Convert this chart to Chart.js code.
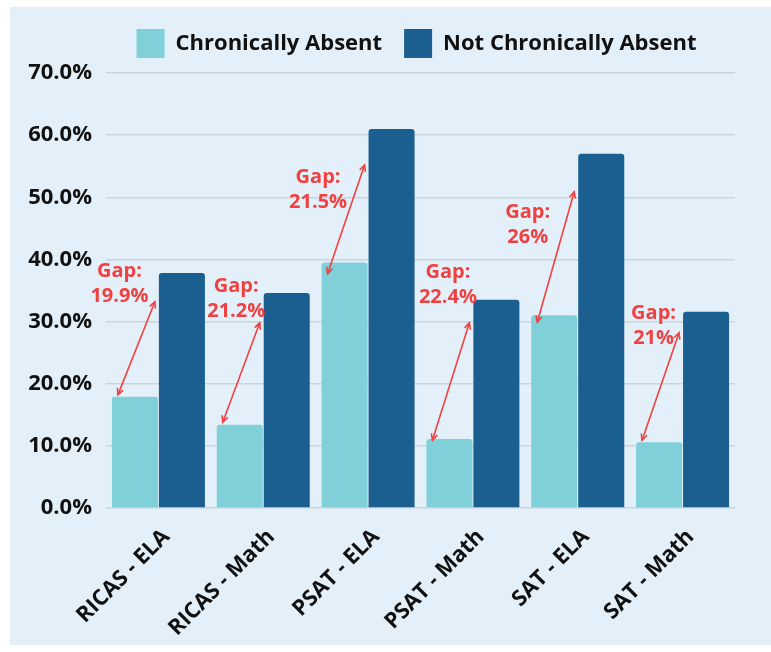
<!DOCTYPE html>
<html>
<head>
<meta charset="utf-8">
<script src="https://cdn.jsdelivr.net/npm/chart.js@4.4.1/dist/chart.umd.min.js"></script>
<style>
  html, body { margin: 0; background: #ffffff; }
  #panel { position: absolute; left: 10px; top: 7px; width: 761px; height: 638px; background: #e4f0f9; }
  canvas { display: block; }
</style>
</head>
<body>
<div id="panel"><canvas id="chart-gap" width="761" height="638"></canvas></div>
<script>
/* ── Data ───────────────────────── */
const categories = ['RICAS - ELA', 'RICAS - Math', 'PSAT - ELA', 'PSAT - Math', 'SAT - ELA', 'SAT - Math'];
const chronicallyAbsent = [17.9, 13.4, 39.5, 11.1, 31.0, 10.6];
const notChronicallyAbsent = [37.8, 34.6, 61.0, 33.5, 57.0, 31.6];
const gapLabels = ['19.9%', '21.2%', '21.5%', '22.4%', '26%', '21%'];
const yMax = 70;
const yStep = 10;

/* ── Gap callout placement (value units / px offsets) ── */
const arrowFrom = [18.2, 13.8, 37.7, 10.9, 29.9, 10.9];
const arrowTo = [33.2, 29.8, 55.2, 29.8, 50.9, 28.2];
const gapTextX = [-39, -27, -50, -25, -50, -29];
const gapTextY = [38.1, 35.7, 53.2, 38.0, 47.6, 31.3];

const light = '#7fd0d8';
const dark = '#1b5f90';
const red = '#ef4141';
const ink = '#111111';
const fontFamily = "'Open Sans', 'DejaVu Sans', sans-serif";

Chart.defaults.font.family = fontFamily;
Chart.defaults.color = ink;

// legend: fixed block height, and nudged right to sit over the plot
const legendPlacement = {
  id: 'legendPlacement',
  beforeUpdate(chart) {
    const lg = chart.legend;
    if (lg && !lg._fixed) {
      const fit = lg.fit;
      lg.fit = function () { fit.call(this); this.height = 66; };
      lg._fixed = true;
    }
  },
  afterLayout(chart) {
    chart.legend.left += 44;
    chart.legend.right += 44;
  }
};

function drawArrowHead(ctx, x, y, angle) {
  const len = 7, spread = 0.45;
  ctx.beginPath();
  ctx.moveTo(x - len * Math.cos(angle - spread), y - len * Math.sin(angle - spread));
  ctx.lineTo(x, y);
  ctx.lineTo(x - len * Math.cos(angle + spread), y - len * Math.sin(angle + spread));
  ctx.stroke();
}

const gapCallouts = {
  id: 'gapCallouts',
  afterDatasetsDraw(chart) {
    const { ctx, scales: { x, y } } = chart;
    const lo = chart.getDatasetMeta(0).data;
    const hi = chart.getDatasetMeta(1).data;
    ctx.save();
    ctx.strokeStyle = red;
    ctx.fillStyle = red;
    ctx.lineWidth = 1.6;
    lo.forEach((bar, i) => {
      const x1 = bar.x - bar.width / 2 + 6;
      const y1 = y.getPixelForValue(arrowFrom[i]);
      const x2 = hi[i].x - hi[i].width / 2 - 4;
      const y2 = y.getPixelForValue(arrowTo[i]);
      ctx.beginPath();
      ctx.moveTo(x1, y1);
      ctx.lineTo(x2, y2);
      ctx.stroke();
      const a = Math.atan2(y2 - y1, x2 - x1);
      drawArrowHead(ctx, x2, y2, a);
      drawArrowHead(ctx, x1, y1, a + Math.PI);

      const tx = x.getPixelForValue(i) + gapTextX[i];
      const ty = y.getPixelForValue(gapTextY[i]);
      ctx.font = 'bold 20px ' + fontFamily;
      ctx.textAlign = 'center';
      ctx.textBaseline = 'middle';
      ctx.fillText('Gap:', tx, ty);
      ctx.fillText(gapLabels[i], tx, ty + 25);
    });
    ctx.restore();
  }
};

new Chart(document.getElementById('chart-gap'), {
  type: 'bar',
  data: {
    labels: categories,
    datasets: [
      {
        label: 'Chronically Absent',
        data: chronicallyAbsent,
        backgroundColor: light,
        borderRadius: 3,
        categoryPercentage: 0.896,
        barPercentage: 0.98
      },
      {
        label: 'Not Chronically Absent',
        data: notChronicallyAbsent,
        backgroundColor: dark,
        borderRadius: 3,
        categoryPercentage: 0.896,
        barPercentage: 0.98
      }
    ]
  },
  options: {
    responsive: false,
    animation: false,
    devicePixelRatio: 1,
    layout: { padding: { left: 0, right: 36, top: 0, bottom: 0 } },
    plugins: {
      legend: {
        position: 'top',
        labels: {
          boxWidth: 28,
          boxHeight: 29,
          padding: 22,
          color: ink,
          font: { size: 22, weight: 'bold' }
        }
      },
      tooltip: { enabled: false }
    },
    scales: {
      y: {
        min: 0,
        max: yMax,
        afterFit: s => { s.width = 96; },
        border: { display: false },
        grid: { color: '#c9d4dd', lineWidth: 1.5, drawTicks: false },
        ticks: {
          stepSize: yStep,
          padding: 14,
          color: ink,
          font: { size: 22, weight: 'bold' },
          callback: v => v.toFixed(1) + '%'
        }
      },
      x: {
        afterFit: s => { s.height = 137; },
        border: { display: false },
        grid: { display: false },
        ticks: {
          autoSkip: false,
          minRotation: 45,
          maxRotation: 45,
          padding: 8,
          labelOffset: 8,
          color: ink,
          font: { size: 22, weight: 'bold' }
        }
      }
    }
  },
  plugins: [legendPlacement, gapCallouts]
});
</script>
</body>
</html>
